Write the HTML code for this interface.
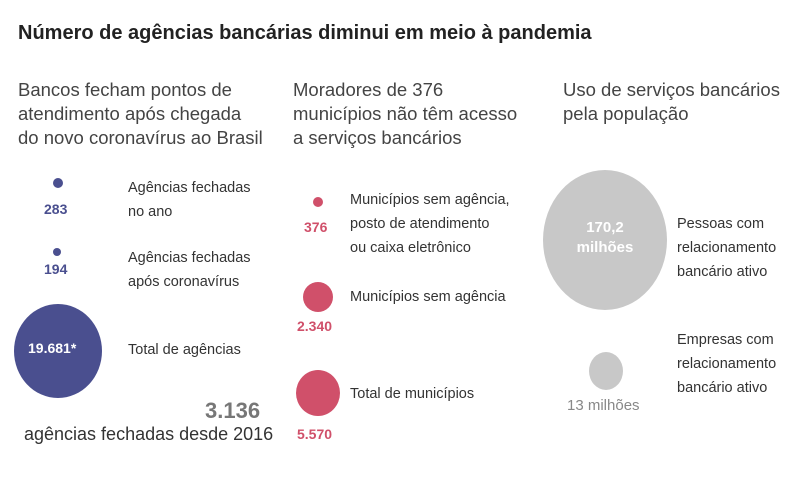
<!DOCTYPE html><html><head><meta charset="utf-8"><style>
body{margin:0;width:800px;height:493px;background:#fff;position:relative;font-family:"Liberation Sans",sans-serif;color:#333;overflow:hidden}
.a{position:absolute;white-space:nowrap}
.h{font-size:18.5px;line-height:24px;color:#444}
.l{font-size:14.5px;line-height:24px;color:#333}
.c{position:absolute;border-radius:50%}
.n{font-weight:bold;font-size:14px}
</style></head><body>
<div class="a" style="left:18px;top:22px;font-size:20px;font-weight:bold;color:#222">Número de agências bancárias diminui em meio à pandemia</div>
<div class="a h" style="left:18px;top:78px">Bancos fecham pontos de<br>atendimento após chegada<br>do novo coronavírus ao Brasil</div>
<div class="a h" style="left:293px;top:78px">Moradores de 376<br>municípios não têm acesso<br>a serviços bancários</div>
<div class="a h" style="left:563px;top:78px">Uso de serviços bancários<br>pela população</div>

<div class="c" style="left:53px;top:178px;width:10px;height:10px;background:#4a4f8f"></div>
<div class="a n" style="left:44px;top:201px;color:#4a4f8f">283</div>
<div class="a l" style="left:128px;top:176px">Agências fechadas<br>no ano</div>
<div class="c" style="left:53px;top:248px;width:8px;height:8px;background:#4a4f8f"></div>
<div class="a n" style="left:44px;top:261px;color:#4a4f8f">194</div>
<div class="a l" style="left:128px;top:246px">Agências fechadas<br>após coronavírus</div>
<div class="c" style="left:14px;top:304px;width:88px;height:94px;background:#4a4f8f"></div>
<div class="a n" style="left:28px;top:340px;color:#fff">19.681*</div>
<div class="a l" style="left:128px;top:338px">Total de agências</div>
<div class="a" style="left:205px;top:398px;font-size:22px;font-weight:bold;color:#777">3.136</div>
<div class="a" style="left:24px;top:424px;font-size:18px;color:#333">agências fechadas desde 2016</div>

<div class="c" style="left:313px;top:197px;width:10px;height:10px;background:#d0506a"></div>
<div class="a n" style="left:304px;top:219px;color:#d0506a">376</div>
<div class="a l" style="left:350px;top:188px">Municípios sem agência,<br>posto de atendimento<br>ou caixa eletrônico</div>
<div class="c" style="left:303px;top:282px;width:30px;height:30px;background:#d0506a"></div>
<div class="a n" style="left:297px;top:318px;color:#d0506a">2.340</div>
<div class="a l" style="left:350px;top:285px">Municípios sem agência</div>
<div class="c" style="left:296px;top:370px;width:44px;height:46px;background:#d0506a"></div>
<div class="a n" style="left:297px;top:426px;color:#d0506a">5.570</div>
<div class="a l" style="left:350px;top:382px">Total de municípios</div>

<div class="c" style="left:543px;top:170px;width:124px;height:140px;background:#c8c8c8"></div>
<div class="a" style="left:543px;width:124px;top:218px;color:#fff;text-align:center;font-weight:bold;font-size:15px;line-height:20px">170,2<br>milhões</div>
<div class="a l" style="left:677px;top:212px">Pessoas com<br>relacionamento<br>bancário ativo</div>
<div class="c" style="left:589px;top:352px;width:34px;height:38px;background:#c8c8c8"></div>
<div class="a n" style="left:567px;top:397px;color:#888;font-weight:normal;font-size:15px">13 milhões</div>
<div class="a l" style="left:677px;top:328px">Empresas com<br>relacionamento<br>bancário ativo</div>
</body></html>
